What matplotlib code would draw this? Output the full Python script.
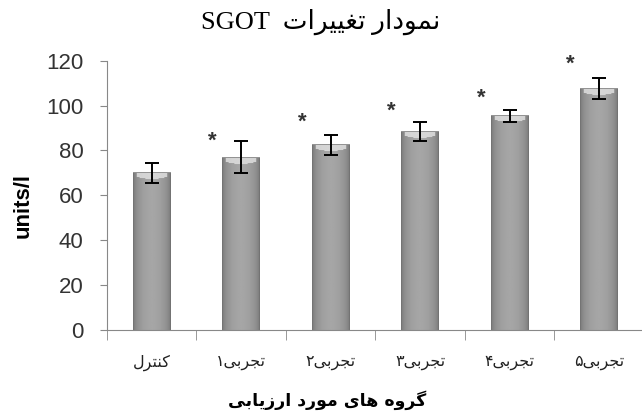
import matplotlib
matplotlib.use('Agg')
import matplotlib.pyplot as plt
import numpy as np

# داده ها
groups = ['کنترل', 'تجربی۱', 'تجربی۲', 'تجربی۳', 'تجربی۴', 'تجربی۵']
means = [70, 77, 82.5, 88.5, 95.5, 107.5]
errors = [4.3, 7.2, 4.3, 4.3, 2.6, 4.7]
star_y = [None, 84, 92.5, 97.5, 103.5, 118.3]
yticks = [0, 20, 40, 60, 80, 100, 120]
title_txt = 'نمودار تغییرات  SGOT'
xlabel_txt = 'گروه های مورد ارزیابی'
ylabel_txt = 'units/l'

# matplotlib حروف فارسی را به هم نمی چسباند، پس خودمان شکل ها را می سازیم
FORMS = {
    'ا': (0xFE8D, 0xFE8E, None, None),
    'ب': (0xFE8F, 0xFE90, 0xFE91, 0xFE92),
    'ت': (0xFE95, 0xFE96, 0xFE97, 0xFE98),
    'ج': (0xFE9D, 0xFE9E, 0xFE9F, 0xFEA0),
    'د': (0xFEA9, 0xFEAA, None, None),
    'ر': (0xFEAD, 0xFEAE, None, None),
    'ز': (0xFEAF, 0xFEB0, None, None),
    'غ': (0xFECD, 0xFECE, 0xFECF, 0xFED0),
    'ل': (0xFEDD, 0xFEDE, 0xFEDF, 0xFEE0),
    'م': (0xFEE1, 0xFEE2, 0xFEE3, 0xFEE4),
    'ن': (0xFEE5, 0xFEE6, 0xFEE7, 0xFEE8),
    'ه': (0xFEE9, 0xFEEA, 0xFEEB, 0xFEEC),
    'و': (0xFEED, 0xFEEE, None, None),
    'ی': (0xFBFC, 0xFBFD, 0xFBFE, 0xFBFF),
    'ک': (0xFB8E, 0xFB8F, 0xFB90, 0xFB91),
    'گ': (0xFB92, 0xFB93, 0xFB94, 0xFB95),
}


def shape(s):
    out = []
    for i, c in enumerate(s):
        if c not in FORMS:
            out.append(c)
            continue
        prev = s[i - 1] if i > 0 else ''
        nxt = s[i + 1] if i + 1 < len(s) else ''
        jp = prev in FORMS and FORMS[prev][2] is not None
        jn = nxt in FORMS and FORMS[c][2] is not None
        f = FORMS[c]
        if jp and jn:
            code = f[3]
        elif jp:
            code = f[1]
        elif jn:
            code = f[2]
        else:
            code = f[0]
        out.append(chr(code))
    rev = ''.join(out)[::-1]
    # متن لاتین را دوباره برمی گردانیم
    res, run = '', ''
    for c in rev:
        if c.isascii() and c.isalnum():
            run += c
        else:
            res += run[::-1] + c
            run = ''
    return res + run[::-1]


fig = plt.figure(figsize=(6.42, 4.13), dpi=100)
ax = fig.add_axes([0.1667, 0.201, 0.836, 0.652])

x = np.arange(len(groups))
bars = ax.bar(x, means, width=0.42, color='none', edgecolor='none', zorder=2)

# گرادیان خاکستری برای ستون ها
ppu = 0.652 * 413 / 120
for b in bars:
    x0, w, h = b.get_x(), b.get_width(), b.get_height()
    nr = int(h * ppu)
    t = np.linspace(0, 1, 40)
    prof = 0.45 + 0.2 * np.sin(np.pi * t) ** 0.5
    img = np.tile(prof, (nr, 1))
    depth = 2.5 + 4 * np.sin(np.pi * t) ** 0.7
    for r in range(8):
        m = (r < depth) & (t > 0.08) & (t < 0.92)
        img[r, m] = img[r, m] * 0.15 + 0.87 * 0.85
    img[0, :] = 0.58
    ax.imshow(img, extent=(x0, x0 + w, 0, h), cmap='gray', vmin=0, vmax=1,
              aspect='auto', interpolation='bilinear', zorder=2)

ax.errorbar(x, means, yerr=errors, fmt='none', ecolor='black', elinewidth=1.4,
            capsize=5, capthick=1.4, zorder=3)

for i, sy in enumerate(star_y):
    if sy is not None:
        ax.text(i - 0.32, sy, '*', ha='center', va='center', fontsize=16,
                fontweight='bold', color='#333333', family='Liberation Sans')

ax.set_xlim(-0.5, 5.5)
ax.set_ylim(0, 120)
ax.set_yticks(yticks)
ax.set_xticks(x)
ax.set_xticklabels([shape(g) for g in groups], family='DejaVu Sans', fontsize=11.5,
                   color='#222222')
ax.set_xticks(np.arange(-0.5, 6, 1), minor=True)
ax.tick_params(axis='x', which='major', length=0, pad=18)
ax.tick_params(axis='x', which='minor', length=7, color='#888888', direction='out')
ax.tick_params(axis='y', length=5, color='#888888', pad=12, labelsize=16,
               labelcolor='#333333')
for lab in ax.get_yticklabels():
    lab.set_family('Liberation Sans')

for sp in ['top', 'right']:
    ax.spines[sp].set_visible(False)
for sp in ['left', 'bottom']:
    ax.spines[sp].set_color('#888888')

fig.text(0.5, 1 - 22 / 413, shape(title_txt), ha='center', va='center',
         fontsize=19, family=['Liberation Serif', 'DejaVu Sans'])
fig.text(0.51, 1 - 400 / 413, shape(xlabel_txt), ha='center', va='center',
         fontsize=12.5, fontweight='bold', family='DejaVu Sans')
fig.text(23.5 / 642, 1 - 206 / 413, ylabel_txt, ha='center', va='center',
         rotation=90, fontsize=16, fontweight='bold', family='Liberation Sans')

fig.savefig('out.png', dpi=100, facecolor='white')
